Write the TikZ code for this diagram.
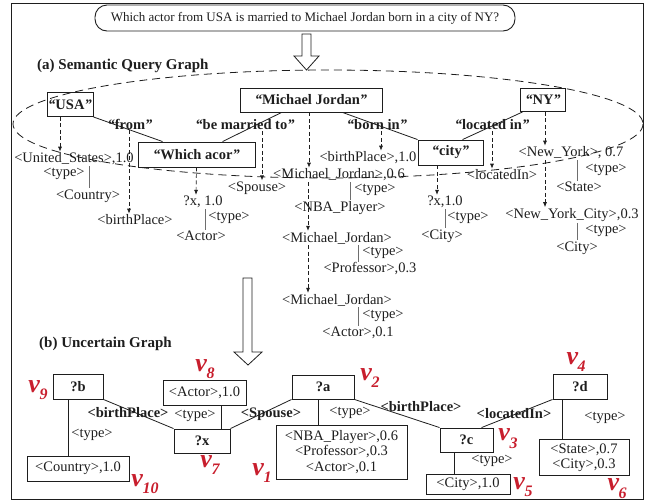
\documentclass[tikz,border=0pt]{standalone}
\usepackage{fontspec}
\setmainfont{Liberation Serif}
\usetikzlibrary{arrows.meta,calc}
\definecolor{vred}{RGB}{200,30,45}
\definecolor{txt}{RGB}{30,30,30}
\definecolor{bar}{RGB}{110,110,110}
\newcommand{\vlab}[1]{{\fontsize{26}{26}\selectfont\bfseries\itshape v\kern-0.02em\raisebox{-0.28em}{\fontsize{16}{16}\selectfont #1}}}
\newcommand{\qt}[1]{{\itshape``}#1{\itshape''}}
\begin{document}
\begin{tikzpicture}[x=1pt,y=-1pt,
  lbl/.style={inner sep=1pt,text=txt,font=\fontsize{14.5}{16}\selectfont},
  blbl/.style={inner sep=1pt,text=txt,font=\fontsize{14.5}{16}\selectfont\bfseries},
  hdr/.style={inner sep=0pt,anchor=west,text=txt,font=\fontsize{15}{17}\selectfont\bfseries},
  abox/.style={draw=txt,line width=0.9pt,inner sep=0pt,blbl},
  bbox/.style={draw=txt,line width=0.9pt,inner sep=0pt,lbl,align=center},
  qbox/.style={draw=txt,line width=0.9pt,rounded corners=12pt,inner sep=0pt,minimum width=420,minimum height=26,lbl,font=\fontsize{13}{15}\selectfont},
  darr/.style={draw=txt,line width=0.7pt,dash pattern=on 4pt off 2.5pt,-{Latex[length=5pt,width=4pt]}},
  tline/.style={draw=bar,line width=1pt},
  eline/.style={draw=txt,line width=0.8pt},
  vl/.style={inner sep=0pt,text=vred},
  hollow/.style={draw=txt,line width=0.8pt,fill=white}
]
\useasboundingbox (0,0) rectangle (660,501);
\draw[line width=0.9pt,draw=txt] (11,3) rectangle (643,499);

% question
\node[qbox] (q) at (305,18) {Which actor from USA is married to Michael Jordan born in a city of NY?};
\draw[hollow] (302,34) -- (311,34) -- (311,56) -- (319,56) -- (306.5,70) -- (294,56) -- (302,56) -- cycle;

\node[hdr] (ha) at (37,66) {(a) Semantic Query Graph};

% dashed ellipse
\draw[txt,line width=0.8pt,dash pattern=on 8pt off 5pt] (328,124) ellipse [x radius=315, y radius=54];

% phrase boxes
\node[abox,minimum width=46,minimum height=24] (usa) at (70,104.5) {\qt{USA}};
\node[abox,minimum width=142,minimum height=24] (mj) at (311,100) {\qt{Michael Jordan}};
\node[abox,minimum width=45,minimum height=23] (ny) at (543,100) {\qt{NY}};
\node[abox,minimum width=117,minimum height=25] (which) at (196.5,154.5) {\qt{Which acor}};
\node[abox,minimum width=65,minimum height=25] (city) at (450.5,152.5) {\qt{city}};

% edge phrases
\node[blbl] (from) at (130,124) {\qt{from}};
\node[blbl] (married) at (245,125) {\qt{be married to}};
\node[blbl] (bornin) at (377,125) {\qt{born in}};
\node[blbl] (locin) at (492,125) {\qt{located in}};

\draw[eline] (usa.south east) -- ($(which.north west)+(25,0)$);
\draw[eline] ($(mj.south west)+(42,0)$) -- ($(which.north west)+(85,0)$);
\draw[eline] ($(mj.south west)+(103,0)$) -- (city.north west);
\draw[eline] ($(ny.south west)+(2.5,0)$) -- ($(city.north west)+(45,0)$);

% candidate labels
\node[lbl] (us) at (74,159) {<United\_States>,1.0};
\node[lbl] (ty1) at (64,174) {<type>};
\node[lbl] (country) at (88,196) {<Country>};
\node[lbl] (bp1) at (135,220) {<birthPlace>};
\node[lbl] (qx1) at (203,202) {?x, 1.0};
\node[lbl] (ty2) at (229,218) {<type>};
\node[lbl] (actA) at (201,236) {<Actor>};
\node[lbl] (spouse) at (257,188) {<Spouse>};
\node[lbl] (bp2) at (368,158) {<birthPlace>,1.0};
\node[lbl] (mj6) at (339,175) {<Michael\_Jordan>,0.6};
\node[lbl] (ty3) at (375,190) {<type>};
\node[lbl] (nba) at (340,208) {<NBA\_Player>};
\node[lbl] (mj2) at (337,238) {<Michael\_Jordan>};
\node[lbl] (ty4) at (383,253) {<type>};
\node[lbl] (prof) at (370,269) {<Professor>,0.3};
\node[lbl] (mj3) at (337,300) {<Michael\_Jordan>};
\node[lbl] (ty5) at (383,316) {<type>};
\node[lbl] (actB) at (358,333) {<Actor>,0.1};
\node[lbl] (qx2) at (445,202) {?x,1.0};
\node[lbl] (ty6) at (468,218) {<type>};
\node[lbl] (cityA) at (442,236) {<City>};
\node[lbl] (locatedin) at (502,175) {<locatedIn>};
\node[lbl] (ny7) at (571,153) {<New\_York>, 0.7};
\node[lbl] (ty7) at (606,170) {<type>};
\node[lbl] (state) at (579,187) {<State>};
\node[lbl] (nyc) at (572,215) {<New\_York\_City>,0.3};
\node[lbl] (ty8) at (606,231) {<type>};
\node[lbl] (cityB) at (577,248) {<City>};

% dashed arrows
\draw[darr] ($(usa.south)+(-10,0)$) -- ($(us.north)+(-14,0)$);
\draw[darr] ($(from.south)+(-1,0)$) -- ($(bp1.north)+(-6,0)$);
\draw[darr] ($(which.south)+(0,0)$) -- ($(qx1.north)+(-7,0)$);
\draw[darr] ($(married.south)+(17,0)$) -- ($(spouse.north)+(5,0)$);
\draw[darr] ($(mj.south)+(-2,0)$) -- ($(mj6.north)+(-30,0)$);
\draw[darr] ($(bornin.south)+(4,0)$) -- ($(bp2.north)+(13,0)$);
\draw[darr] ($(mj6.south)+(-31,0)$) -- ($(mj2.north)+(-29,0)$);
\draw[darr] ($(mj2.south)+(-29,0)$) -- ($(mj3.north)+(-29,0)$);
\draw[darr] ($(city.south)+(-13.5,0)$) -- ($(qx2.north)+(-8,0)$);
\draw[darr] ($(locin.south)+(0,0)$) -- ($(locatedin.north)+(-10,0)$);
\draw[darr] ($(ny.south)+(2,0)$) -- ($(ny7.north)+(-26,0)$);
\draw[darr] ($(ny7.south)+(-26,0)$) -- ($(nyc.north)+(-27,0)$);

% type bars
\draw[tline] ($(us.south)+(15,0)$) -- ($(country.north)+(1,0)$);
\draw[tline] ($(qx1.south)+(2,0)$) -- ($(actA.north)+(4,0)$);
\draw[tline] ($(mj6.south)+(11,0)$) -- ($(nba.north)+(10,0)$);
\draw[tline] ($(mj2.south)+(21,0)$) -- ($(prof.north)+(-12,0)$);
\draw[tline] ($(mj3.south)+(21,0)$) -- ($(actB.north)+(0,0)$);
\draw[tline] ($(qx2.south)+(0,0)$) -- ($(cityA.north)+(3,0)$);
\draw[tline] ($(ny7.south)+(6,0)$) -- ($(state.north)+(-2,0)$);
\draw[tline] ($(nyc.south)+(5,0)$) -- ($(cityB.north)+(0,0)$);

% second hollow arrow
\draw[hollow] (243,278) -- (252,278) -- (252,352) -- (262,352) -- (248,365) -- (234,352) -- (243,352) -- cycle;

\node[hdr] (hb) at (39,344) {(b) Uncertain Graph};

% uncertain graph
\node[bbox,font=\fontsize{14.5}{16}\selectfont\bfseries,minimum width=50,minimum height=25] (qb) at (78,386.5) {?b};
\node[bbox,minimum width=102,minimum height=25] (countryb) at (78,468.5) {<Country>,1.0};
\node[bbox,minimum width=83,minimum height=25] (actorb) at (204.5,392.5) {<Actor>,1.0};
\node[bbox,font=\fontsize{14.5}{16}\selectfont\bfseries,minimum width=56,minimum height=24] (qxb) at (202,441) {?x};
\node[bbox,font=\fontsize{14.5}{16}\selectfont\bfseries,minimum width=62,minimum height=24] (qa) at (323,387) {?a};
\node[bbox,minimum width=131,minimum height=54,font=\fontsize{14.5}{15.5}\selectfont] (vals) at (341.5,452) {<NBA\_Player>,0.6\\<Professor>,0.3\\<Actor>,0.1};
\node[bbox,font=\fontsize{14.5}{16}\selectfont\bfseries,minimum width=53,minimum height=24] (qc) at (466.5,440) {?c};
\node[bbox,minimum width=84,minimum height=20] (cityb) at (468,484) {<City>,1.0};
\node[bbox,font=\fontsize{14.5}{16}\selectfont\bfseries,minimum width=54,minimum height=25] (qd) at (580,386.5) {?d};
\node[bbox,minimum width=90,minimum height=36,font=\fontsize{14.5}{15.5}\selectfont] (stateb) at (584,457.5) {<State>,0.7\\<City>,0.3};

\draw[eline] (qb.south east) -- (qxb.north west);
\draw[eline] (qxb.north east) -- (qa.south west);
\draw[eline] (qa.south east) -- (qc.north west);
\draw[eline] (qd.south west) -- ($(qc.north west)+(42,0)$);
\draw[eline] ($(actorb.south west)+(59,0)$) -- ($(qxb.north west)+(48,0)$);
\draw[eline] ($(qb.south)+(-10,0)$) -- ($(countryb.north)+(-10,0)$);
\draw[eline] ($(qa.south)+(-5,0)$) -- ($(vals.north)+(-23.5,0)$);
\draw[eline] ($(qc.south)+(-12.5,0)$) -- ($(cityb.north)+(-14,0)$);
\draw[eline] ($(qd.south)+(-18,0)$) -- ($(stateb.north)+(-22,0)$);

\node[blbl] (lbp1) at (128,413) {<birthPlace>};
\node[blbl] (lsp) at (271,414) {<Spouse>};
\node[blbl] (lbp2) at (421,407) {<birthPlace>};
\node[blbl] (lloc) at (514,414) {<locatedIn>};
\node[lbl] (tb1) at (92,435) {<type>};
\node[lbl] (tb2) at (195,416) {<type>};
\node[lbl] (tb3) at (350,413) {<type>};
\node[lbl] (tb4) at (492,461) {<type>};
\node[lbl] (tb5) at (605,418) {<type>};

\node[vl] (v9) at (38,390) {\vlab{9}};
\node[vl] (v10) at (145,484) {\vlab{10}};
\node[vl] (v8) at (205,369) {\vlab{8}};
\node[vl] (v7) at (210,465) {\vlab{7}};
\node[vl] (v2) at (370,378) {\vlab{2}};
\node[vl] (v1) at (262,473) {\vlab{1}};
\node[vl] (v3) at (508,438.5) {\vlab{3}};
\node[vl] (v5) at (523,487) {\vlab{5}};
\node[vl] (v4) at (576,362) {\vlab{4}};
\node[vl] (v6) at (617,488.5) {\vlab{6}};
\end{tikzpicture}
\end{document}
